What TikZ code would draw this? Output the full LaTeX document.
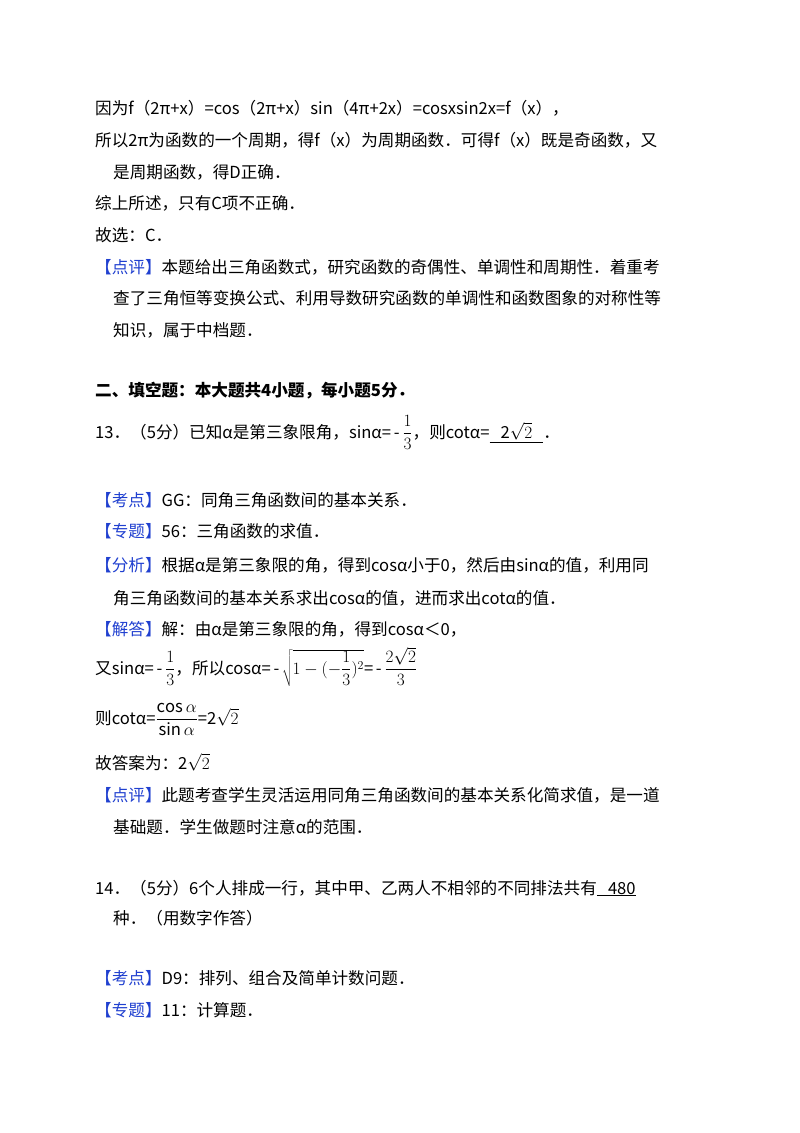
\documentclass[tikz,border=0pt]{standalone}
\usepackage{fontspec}
\setmainfont{Noto Sans CJK SC}
\definecolor{kb}{HTML}{2040D0}
\newcommand{\kk}[1]{{\color{kb}【#1】}}
\newcommand{\df}[2]{{\displaystyle\frac{#1}{#2}}}
\begin{document}
\begin{tikzpicture}[x=1pt,y=-1pt,every node/.style={anchor=base west,inner sep=0pt,font=\fontsize{16.6}{20}\selectfont}]
\useasboundingbox[fill=white] (0,0) rectangle (800,1133);
\node (l1) at (95,114) {因为f（2π+x）=cos（2π+x）sin（4π+2x）=cosxsin2x=f（x），};
\node (l2) at (95,146) {所以2π为函数的一个周期，得f（x）为周期函数．可得f（x）既是奇函数，又};
\node (l3) at (113,178) {是周期函数，得D正确．};
\node (l4) at (95,209) {综上所述，只有C项不正确．};
\node (l5) at (95,241) {故选：C．};
\node (l6) at (95,273) {\kk{点评}本题给出三角函数式，研究函数的奇偶性、单调性和周期性．着重考};
\node (l7) at (113,304) {查了三角恒等变换公式、利用导数研究函数的单调性和函数图象的对称性等};
\node (l8) at (113,336) {知识，属于中档题．};
\node (l9) at (95,396) {\bfseries 二、填空题：本大题共4小题，每小题5分．};
\node (l10) at (95,438) {13．（5分）已知α是第三象限角，sinα=\,-\,$\df{1}{3}$，则cotα=\underline{\ \ \ 2$\sqrt{2}$\ \ \ }．};
\node (l11) at (95,506) {\kk{考点}GG：同角三角函数间的基本关系．};
\node (l12) at (95,537) {\kk{专题}56：三角函数的求值．};
\node (l13) at (95,571) {\kk{分析}根据α是第三象限的角，得到cosα小于0，然后由sinα的值，利用同};
\node (l14) at (113,604) {角三角函数间的基本关系求出cosα的值，进而求出cotα的值．};
\node (l15) at (95,635) {\kk{解答}解：由α是第三象限的角，得到cosα＜0，};
\node (l16) at (95,674) {又sinα=\,-\,$\df{1}{3}$，所以cosα=\,-\,$\sqrt{1-(-\df{1}{3})^{2}}$=\,-\,$\df{2\sqrt{2}}{3}$};
\node (l17) at (95,724) {则cotα=$\df{\cos\alpha}{\sin\alpha}$=2$\sqrt{2}$};
\node (l18) at (95,769) {故答案为：2$\sqrt{2}$};
\node (l19) at (95,801) {\kk{点评}此题考查学生灵活运用同角三角函数间的基本关系化简求值，是一道};
\node (l20) at (113,833) {基础题．学生做题时注意α的范围．};
\node (l21) at (95,894) {14．（5分）6个人排成一行，其中甲、乙两人不相邻的不同排法共有\underline{\ \ \ 480}};
\node (l22) at (113,924) {种．（用数字作答）};
\node (l23) at (95,984) {\kk{考点}D9：排列、组合及简单计数问题．};
\node (l24) at (95,1016) {\kk{专题}11：计算题．};
\end{tikzpicture}
\end{document}
